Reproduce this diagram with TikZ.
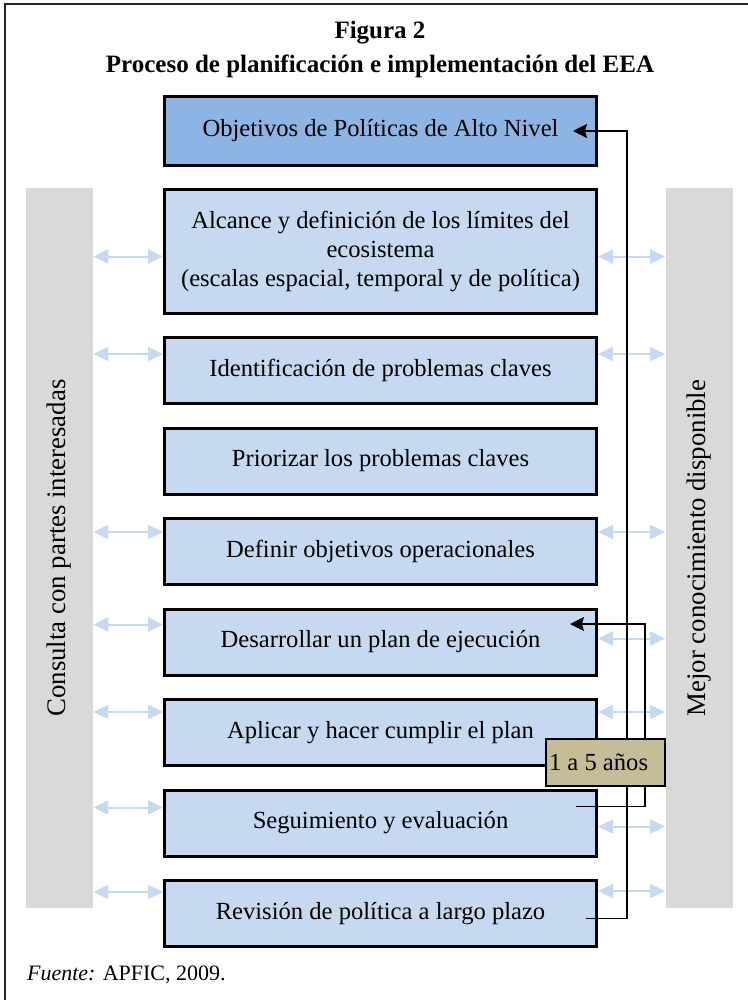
\documentclass[tikz,border=0pt]{standalone}
\usepackage{fontspec}
\setmainfont{Liberation Serif}
\usetikzlibrary{positioning,arrows.meta,calc}

\definecolor{boxblue}{HTML}{C6D9F1}
\definecolor{topblue}{HTML}{8EB4E3}
\definecolor{sidegray}{HTML}{D9D9D9}
\definecolor{tagtan}{HTML}{C4BD97}

\begin{document}
\begin{tikzpicture}[
		x=0.5pt, y=-0.5pt,
		node distance=10.75pt,
		> = {Stealth[length=7pt,width=7pt,inset=1pt]},
		stepbox/.style={draw,line width=1.5pt,fill=boxblue,minimum width=216pt,minimum height=33pt,inner sep=0pt,align=center,font=\fontsize{12.3}{14.4}\selectfont},
		sidebar/.style={fill=sidegray,minimum width=33.5pt,minimum height=360pt,inner sep=0pt,font=\fontsize{13.4}{15}\selectfont},
		tagbox/.style={draw,line width=0.75pt,fill=tagtan,text width=56.5pt,inner xsep=1.5pt,minimum height=23.5pt,align=flush left,font=\fontsize{12.3}{14}\selectfont},
		biarrow/.style={{Triangle[length=7.5pt,width=7pt]}-{Triangle[length=7.5pt,width=7pt]},line width=1pt,boxblue},
		feedback/.style={->,line width=0.75pt}
		]
		\useasboundingbox (0,0) rectangle (748,1000);
		\draw[line width=1pt,black!85] (748,4) -- (5,4) -- (5,1000);
		
		% title
		\node[align=center,font=\bfseries\fontsize{12.5}{17}\selectfont] (titulo) at (380,49) {Figura 2\\Proceso de planificación e implementación del EEA};
		
		% side columns
		\node[sidebar] at (59.5,548) (consulta) {\rotatebox{90}{Consulta con partes interesadas}};
		\node[sidebar] at (699,548) (mejor) {\rotatebox{90}{Mejor conocimiento disponible}};
		
		% steps
		\node[stepbox,fill=topblue,minimum height=34.5pt] at (380.5,131) (obj) {Objetivos de Políticas de Alto Nivel};
		\node[stepbox,below=of obj,minimum height=61.5pt] (alc) {Alcance y definición de los límites del\\ecosistema\\(escalas espacial, temporal y de política)};
		\node[stepbox,below=of alc] (ident) {Identificación de problemas claves};
		\node[stepbox,below=of ident] (prio) {Priorizar los problemas claves};
		\node[stepbox,below=of prio] (defin) {Definir objetivos operacionales};
		\node[stepbox,below=of defin] (desar) {Desarrollar un plan de ejecución};
		\node[stepbox,below=of desar] (aplic) {Aplicar y hacer cumplir el plan};
		\node[stepbox,below=of aplic] (segui) {Seguimiento y evaluación};
		\node[stepbox,below=of segui] (revis) {Revisión de política a largo plazo};
		
		% Draw the exchange arrows
		\foreach \b/\l/\r in {alc/68/68,ident/18/18,defin/15/15,desar/17/31,aplic/14/14,segui/19/38,revis/13/12}{
			\path (\b.north west) ++(0,\l) coordinate (lp);
			\path (\b.north east) ++(0,\r) coordinate (rp);
			\draw[biarrow] (consulta.east |- lp) -- (lp);
			\draw[biarrow] (rp) -- (mejor.west |- rp);
		}
		
		% feedback loops
		\draw[feedback] ($(revis.east)+(-12,5)$) -| ($(obj.east)+(29,0)$) -- ($(obj.east)+(-25,0)$);
		\draw[feedback] ($(segui.east)+(-22,-16.5)$) -| ($(desar.east)+(47,-18)$) -- ($(desar.east)+(-28,-18)$);
		\node[tagbox] at ($(aplic.south east)+(7.5,-4.5)$) (lapso) {1 a 5 años};
		
		\node[anchor=west,font=\fontsize{11}{13}\selectfont] at (20,975) (fuente) {\textit{Fuente:} APFIC, 2009.};
	\end{tikzpicture}
\end{document}
